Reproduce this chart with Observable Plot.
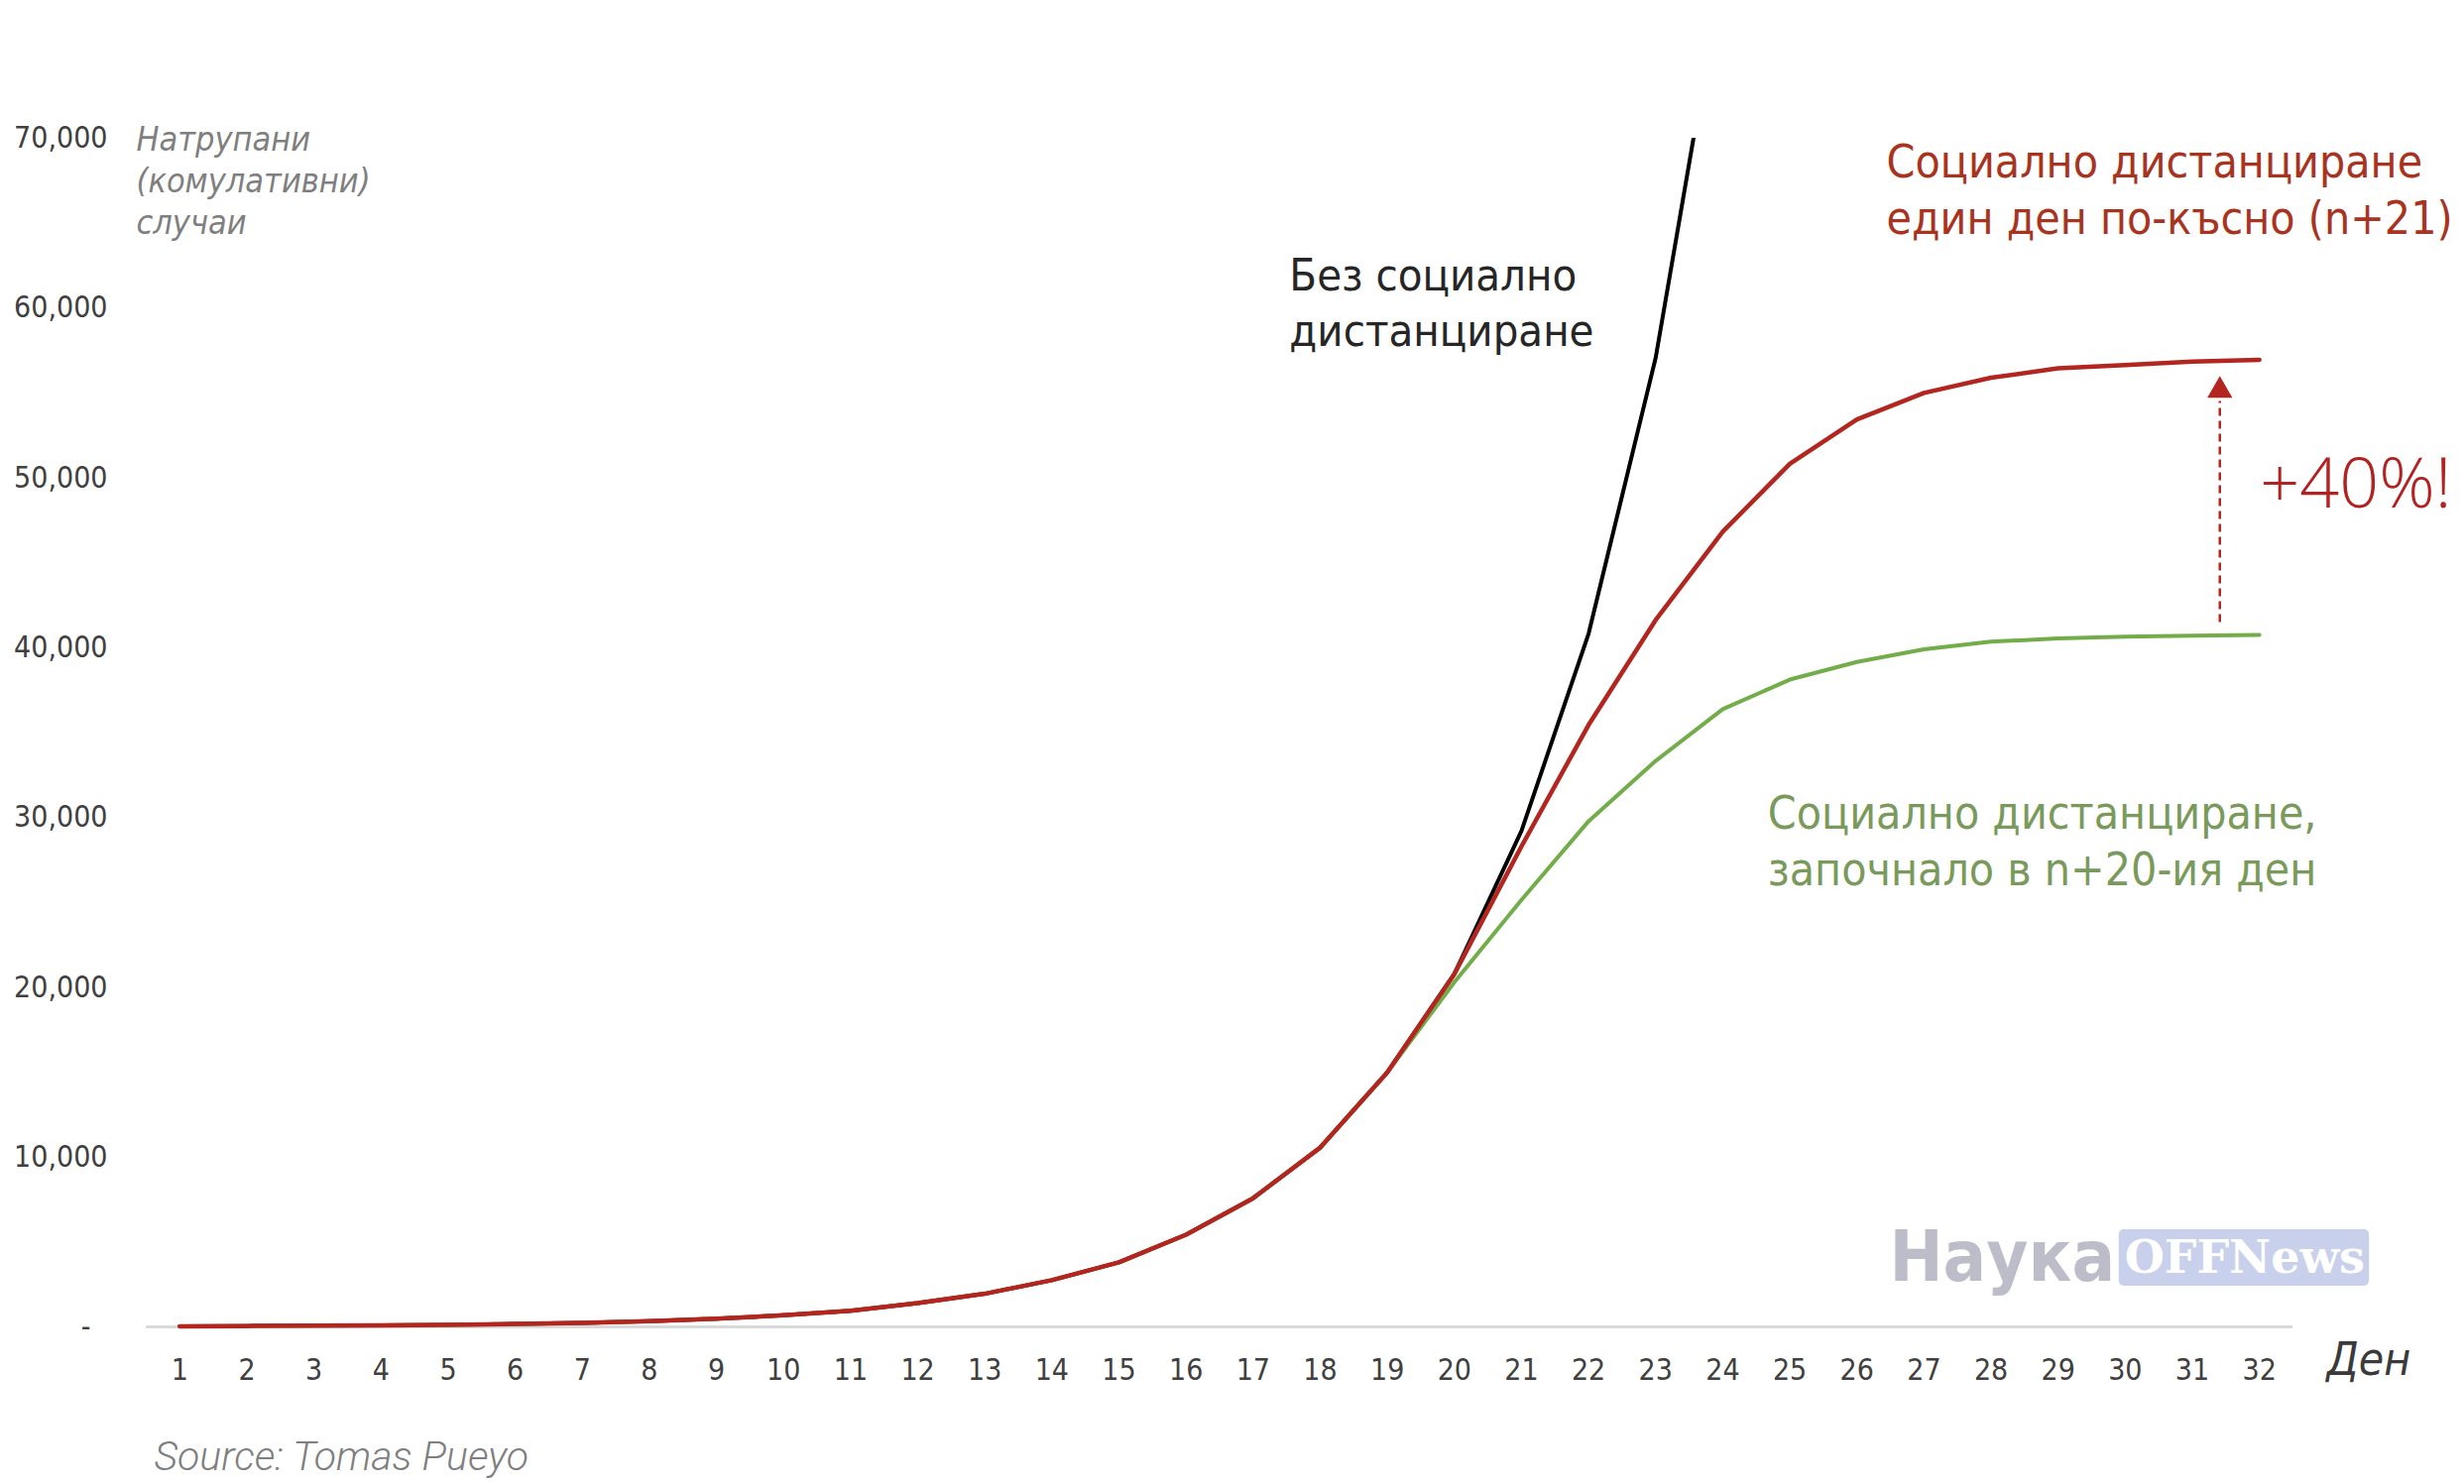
<!DOCTYPE html>
<html><head><meta charset="utf-8">
<script src="https://cdn.jsdelivr.net/npm/d3@7"></script>
<script src="https://cdn.jsdelivr.net/npm/@observablehq/plot@0.6"></script>
<style>
html,body{margin:0;padding:0;background:#fff;overflow:hidden;}
#chart svg{display:block;}
</style></head><body><div id="chart"></div>
<script>
// ---- data ----
const days = d3.range(1, 33);
const noDistancing = [30, 50, 70, 90, 120, 170, 240, 340, 480, 680, 950, 1400, 1950, 2750, 3800, 5430, 7580, 10560, 14990, 20790, 29210, 40820, 57070, 80000];
const distancingDay21 = [30, 50, 70, 90, 120, 170, 240, 340, 480, 680, 950, 1400, 1950, 2750, 3800, 5430, 7580, 10560, 14990, 20790, 28300, 35450, 41630, 46830, 50830, 53440, 55000, 55900, 56450, 56650, 56850, 56950];
const distancingDay20 = [30, 50, 70, 90, 120, 170, 240, 340, 480, 680, 950, 1400, 1950, 2750, 3800, 5430, 7580, 10560, 14990, 20300, 25150, 29780, 33330, 36380, 38120, 39160, 39900, 40350, 40550, 40650, 40700, 40750];
const yTicks = [10000, 20000, 30000, 40000, 50000, 60000, 70000];
const xTicks = days;

const seriesNames = ["Без социално дистанциране", "Социално дистанциране един ден по-късно (n+21)", "Социално дистанциране, започнало в n+20-ия ден"];
const toRows = (vals, name) => vals.map((v, i) => ({day: days[i], value: v, series: name}));
const rowsBlack = toRows(noDistancing, seriesNames[0]);
const rowsRed = toRows(distancingDay21, seriesNames[1]);
const rowsGreen = toRows(distancingDay20, seriesNames[2]);

const COND = '"DejaVu Sans Condensed", "DejaVu Sans", sans-serif';
const RED = "#b3261f", RED_TXT = "#a8341f", GREEN = "#72ad4a", GREEN_TXT = "#7a9a5c";

const chart = Plot.plot({
  width: 2485, height: 1497,
  marginLeft: 147, marginRight: 173, marginTop: 139, marginBottom: 159,
  x: {domain: [0.5, 32.5]},
  y: {domain: [0, 70000]},
  style: {fontFamily: COND, background: "#fff", color: "#404040"},
  marks: [
    Plot.ruleY([0], {stroke: "#d9d9d9", strokeWidth: 3}),
    Plot.axisY(yTicks, {tickSize: 0, tickPadding: 39, tickFormat: d3.format(","), fontSize: 30, label: null, fill: "#404040"}),
    Plot.axisY([0], {tickSize: 0, tickPadding: 56, tickFormat: () => "-", fontSize: 30, label: null, fill: "#404040"}),
    Plot.axisX(xTicks, {tickSize: 0, tickPadding: 32, fontSize: 30, label: null, fill: "#404040"}),
    // watermark
    Plot.rect([0], {x1: 29.91, x2: 33.64, y1: 2390, y2: 5720, fill: "#c9d0ec", rx: 5}),
    Plot.text(["OFFNews"], {x: 31.78, y: 4055, fontFamily: '"DejaVu Serif", serif', fontWeight: "bold", fontSize: 46, fill: "#ffffff"}),
    Plot.text(["Наука"], {x: 29.85, y: 4055, textAnchor: "end", fontFamily: '"Liberation Sans Narrow", "DejaVu Sans Condensed", sans-serif', fontWeight: "bold", fontSize: 72, fill: "#bdbdca"}),
    // lines
    Plot.line(rowsBlack, {x: "day", y: "value", stroke: "#000", strokeWidth: 4, clip: true, strokeLinejoin: "round"}),
    Plot.line(rowsGreen, {x: "day", y: "value", stroke: GREEN, strokeWidth: 4, strokeLinejoin: "round"}),
    Plot.line(rowsRed, {x: "day", y: "value", stroke: RED, strokeWidth: 4.5, strokeLinejoin: "round"}),
    // +40% arrow
    Plot.ruleX([31.41], {y1: 41480, y2: 54500, stroke: RED, strokeWidth: 2.5, strokeDasharray: "8,5"}),
    Plot.dot([31.41], {x: d => d, y: 55150, symbol: "triangle", r: 9.4, fill: RED, stroke: null}),
    // labels
    Plot.text(["Без социално\nдистанциране"], {x: 17.54, y: 60470, textAnchor: "start", lineAnchor: "middle", lineHeight: 1.26, fontSize: 45, fill: "#262626"}),
    Plot.text(["Социално дистанциране\nедин ден по-късно (n+21)"], {x: 26.44, y: 67080, textAnchor: "start", lineAnchor: "middle", lineHeight: 1.24, fontSize: 46, fill: RED_TXT}),
    Plot.text(["Социално дистанциране,\nзапочнало в n+20-ия ден"], {x: 24.67, y: 28730, textAnchor: "start", lineAnchor: "middle", lineHeight: 1.24, fontSize: 46, fill: GREEN_TXT}),
    Plot.text(["+40%!"], {x: 32.01, y: 49590, textAnchor: "start", fontFamily: '"Open Sans", sans-serif', fontWeight: 300, fontSize: 70, fill: "#b22222"}),
    // axis titles and source
    Plot.text(["Натрупани\n(комулативни)\nслучаи"], {frameAnchor: "top-left", dx: -10, dy: 41, textAnchor: "start", lineAnchor: "middle", lineHeight: 1.24, fontSize: 34, fontStyle: "italic", fill: "#7f7f7f"}),
    Plot.text(["Ден"], {frameAnchor: "bottom-right", dx: 34, dy: 48, textAnchor: "start", fontSize: 46, fontStyle: "italic", fill: "#3a3a3a"}),
    Plot.text(["Source: Tomas Pueyo"], {frameAnchor: "bottom-left", dx: 8, dy: 144, textAnchor: "start", fontFamily: 'Roboto, "Liberation Sans", sans-serif', fontWeight: 300, fontStyle: "italic", fontSize: 41, fill: "#7f7f7f"})
  ]
});
document.getElementById("chart").appendChild(chart);
</script>
</body></html>
